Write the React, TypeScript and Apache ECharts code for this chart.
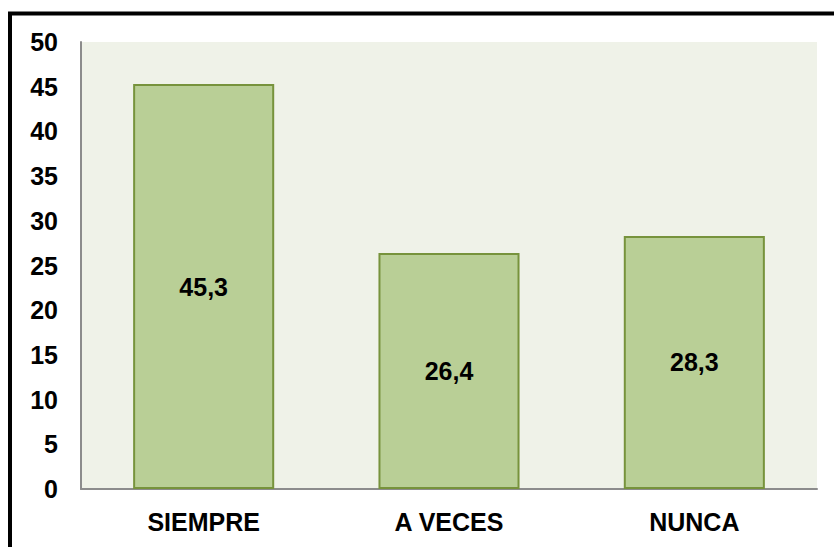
import React, { useEffect, useRef } from "react";
import * as echarts from "echarts";

const categories = ["SIEMPRE", "A VECES", "NUNCA"];
const values = [45.3, 26.4, 28.3];
const yTicks = { min: 0, max: 50, interval: 5 };

export default function App() {
  const ref = useRef<HTMLDivElement>(null);
  useEffect(() => {
    if (!ref.current) return;
    const chart = echarts.init(ref.current, null, { renderer: "svg" });
    const font = "'Liberation Sans', Arial, sans-serif";
    chart.setOption({
      animation: false,
      backgroundColor: "#ffffff",
      graphic: [
        {
          type: "rect",
          shape: { x: 10, y: 13.5, width: 900, height: 700 },
          style: { fill: "none", stroke: "#000000", lineWidth: 4 },
          silent: true,
        },
      ],
      grid: {
        left: 81,
        top: 42,
        right: 17,
        bottom: 58,
        show: true,
        backgroundColor: "#EFF2E8",
        borderWidth: 0,
      },
      xAxis: {
        type: "category",
        data: categories,
        axisLine: { show: true, lineStyle: { color: "#8C8C8C", width: 2 } },
        axisTick: { show: false },
        axisLabel: {
          color: "#000000",
          fontFamily: font,
          fontWeight: "bold",
          fontSize: 25,
          margin: 20,
        },
      },
      yAxis: {
        type: "value",
        min: yTicks.min,
        max: yTicks.max,
        interval: yTicks.interval,
        splitLine: { show: false },
        axisLine: { show: true, lineStyle: { color: "#8C8C8C", width: 2 } },
        axisTick: { show: false },
        axisLabel: {
          color: "#000000",
          fontFamily: font,
          fontWeight: "bold",
          fontSize: 25,
          margin: 23,
        },
      },
      series: [
        {
          type: "bar",
          data: values,
          barWidth: "57.5%",
          itemStyle: { color: "#B9CF96", borderColor: "#77933C", borderWidth: 2 },
          label: {
            show: true,
            position: "inside",
            color: "#000000",
            fontFamily: font,
            fontWeight: "bold",
            fontSize: 25,
            formatter: (p: any) => String(p.value).replace(".", ","),
          },
        },
      ],
    });
    return () => chart.dispose();
  }, []);
  return (
    <div
      ref={ref}
      style={{ position: "absolute", left: 0, top: 0, width: 834, height: 547 }}
    />
  );
}
